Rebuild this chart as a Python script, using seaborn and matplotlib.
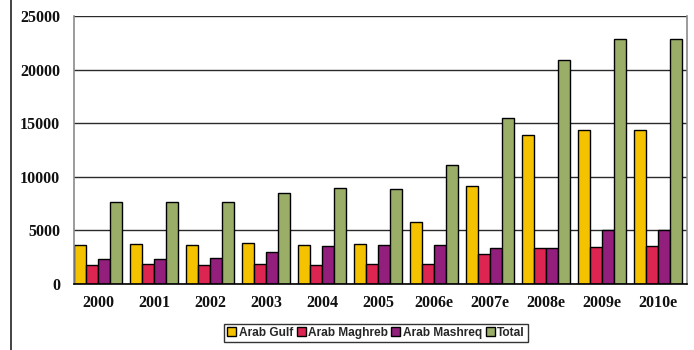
import matplotlib
matplotlib.use("Agg")
import matplotlib.pyplot as plt
from matplotlib.lines import Line2D
import seaborn as sns
import pandas as pd

years = ["2000", "2001", "2002", "2003", "2004", "2005",
         "2006e", "2007e", "2008e", "2009e", "2010e"]
arab_gulf = [3650, 3730, 3650, 3800, 3650, 3760, 5780, 9110, 13870, 14370, 14370]
arab_maghreb = [1770, 1830, 1800, 1870, 1770, 1830, 1830, 2770, 3390, 3450, 3510]
arab_mashreq = [2330, 2330, 2390, 2950, 3510, 3600, 3600, 3390, 3390, 5000, 5000]
total = [7680, 7680, 7680, 8460, 8990, 8900, 11130, 15520, 20860, 22820, 22880]

series_names = ["Arab Gulf", "Arab Maghreb", "Arab Mashreq", "Total"]
series_values = [arab_gulf, arab_maghreb, arab_mashreq, total]
colors = ["#F5C200", "#DC2551", "#921F7C", "#9AAE68"]

rows = []
for name, vals in zip(series_names, series_values):
    for y, v in zip(years, vals):
        rows.append({"year": y, "region": name, "value": v})
df = pd.DataFrame(rows)

sns.set_style("white")
plt.rcParams["font.family"] = ["Liberation Serif", "DejaVu Serif"]

fig = plt.figure(figsize=(6.94, 3.5), dpi=100)
ax = fig.add_axes([74 / 694, 1 - 284 / 350, (687 - 74) / 694, (284 - 16) / 350])

sns.barplot(data=df, x="year", y="value", hue="region", order=years,
            hue_order=series_names, palette=colors, width=0.866, gap=0,
            edgecolor="black", linewidth=1.0, saturation=1, ax=ax, legend=False)

ax.set_ylim(0, 25000)
ax.set_xlim(-0.433, 10.52)
ax.set_yticks(range(0, 25001, 5000))
ax.yaxis.grid(True, color="#2a2a2a", linewidth=1.0)
ax.set_axisbelow(True)
ax.set_xlabel("")
ax.set_ylabel("")
ax.tick_params(axis="both", length=0, labelsize=11.5)
ax.tick_params(axis="x", pad=8)
ax.tick_params(axis="y", pad=10)
for lab in ax.get_xticklabels() + ax.get_yticklabels():
    lab.set_fontweight("bold")
    lab.set_color("#111111")

for side in ["left", "right"]:
    ax.spines[side].set_color("#8a8a8a")
    ax.spines[side].set_linewidth(1.2)
ax.spines["top"].set_visible(False)
ax.spines["bottom"].set_color("black")
ax.spines["bottom"].set_linewidth(1.2)

# page border line on the left
fig.add_artist(Line2D([10.5 / 694, 10.5 / 694], [0, 1], color="#222222",
                      linewidth=1.2, transform=fig.transFigure))

handles = [plt.Rectangle((0, 0), 1, 1, facecolor=c, edgecolor="black", linewidth=1.0)
           for c in colors]
leg = fig.legend(handles, series_names, loc="center", ncol=4,
                 bbox_to_anchor=(376 / 694, 1 - 333 / 350),
                 prop={"family": "Liberation Sans", "weight": "bold", "size": 8.6},
                 handlelength=0.75, handleheight=0.75, handletextpad=0.2,
                 columnspacing=0.3, borderpad=0.25, frameon=True, fancybox=False,
                 borderaxespad=0)
leg.get_frame().set_edgecolor("black")
leg.get_frame().set_linewidth(1.0)

fig.savefig("out.png", dpi=100)
